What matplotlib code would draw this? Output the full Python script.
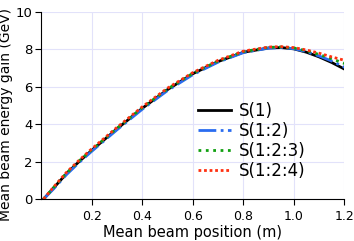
import numpy as np
import matplotlib.pyplot as plt

# beam position (m)
pos = [0.01, 0.05, 0.1, 0.15, 0.2, 0.3, 0.4, 0.5, 0.6, 0.7, 0.8, 0.9, 0.95, 1.0, 1.05, 1.1, 1.15, 1.2]
# energy gain (GeV)
s1   = [0.0, 0.6, 1.35, 2.0, 2.6, 3.75, 4.85, 5.85, 6.7, 7.35, 7.85, 8.08, 8.1, 8.03, 7.85, 7.6, 7.3, 6.95]
s12  = [0.0, 0.55, 1.3, 1.95, 2.55, 3.7, 4.8, 5.8, 6.65, 7.32, 7.83, 8.07, 8.1, 8.04, 7.88, 7.65, 7.38, 7.05]
s123 = [0.0, 0.62, 1.38, 2.03, 2.63, 3.78, 4.88, 5.88, 6.72, 7.38, 7.88, 8.11, 8.13, 8.08, 7.93, 7.73, 7.5, 7.25]
s124 = [0.0, 0.65, 1.42, 2.07, 2.68, 3.83, 4.93, 5.93, 6.76, 7.42, 7.91, 8.13, 8.15, 8.1, 7.97, 7.8, 7.6, 7.42]

fig = plt.figure(figsize=(3.54, 2.41), dpi=100)
ax = fig.add_axes([0.116, 0.174, 0.857, 0.776])

ax.plot(pos, s1, color='black', lw=2, ls='-', label='S(1)')
ax.plot(pos, s12, color='#2a6cf0', lw=2, ls='-.', label='S(1:2)')
ax.plot(pos, s123, color='#10a010', lw=2, ls=':', label='S(1:2:3)')
ax.plot(pos, s124, color='#ff3010', lw=2, ls=(0, (1, 1)), label='S(1:2:4)')

ax.set_xlim(0, 1.2)
ax.set_ylim(0, 10)
ax.set_xticks([0.2, 0.4, 0.6, 0.8, 1.0, 1.2])
ax.set_xticklabels(['0.2', '0.4', '0.6', '0.8', '1.0', '1.2'])
ax.set_yticks([0, 2, 4, 6, 8, 10])
ax.grid(color='#e2e2fa', lw=0.8)
ax.set_axisbelow(True)
for s in ['top', 'right']:
    ax.spines[s].set_visible(False)
ax.tick_params(direction='out', length=4, labelsize=9.5, pad=2)
ax.tick_params(axis='x', pad=4, labelsize=9)
ax.set_xlabel('Mean beam position (m)', fontsize=10.5, labelpad=1)
ax.set_ylabel('Mean beam energy gain (GeV)', fontsize=10, labelpad=2)
ax.yaxis.label.set_y(0.45)

ax.legend(loc='upper left', bbox_to_anchor=(0.516, 0.52), frameon=False,
          fontsize=12, handlelength=2.0, labelspacing=0.12, handletextpad=0.5,
          borderpad=0, borderaxespad=0)

fig.savefig('out.png', dpi=100)
